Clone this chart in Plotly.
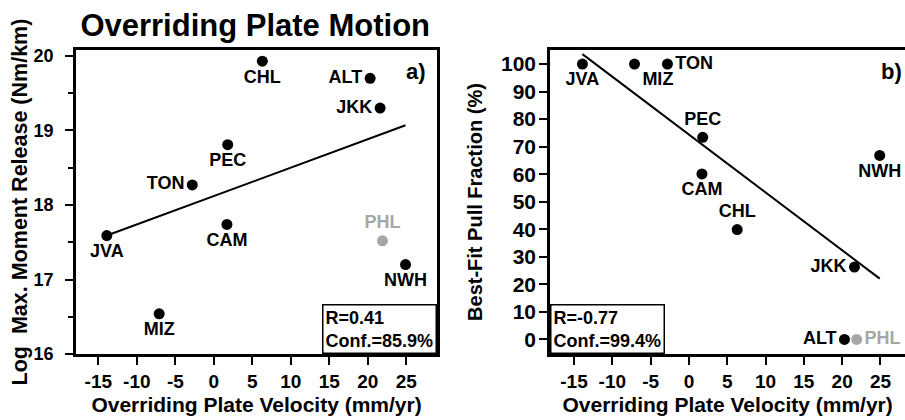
import plotly.graph_objects as go

# ---- data ----
zones = ["JVA", "MIZ", "TON", "PEC", "CAM", "CHL", "ALT", "JKK", "PHL", "NWH"]
velocity = [-13.9, -7.1, -2.8, 1.8, 1.7, 6.3, 20.3, 21.6, 21.9, 24.9]
moment_release = [17.59, 16.54, 18.27, 18.81, 17.74, 19.93, 19.70, 19.30, 17.52, 17.20]
pull_fraction = [100, 100, 100, 73.4, 60.1, 39.9, 0, 26.3, 0, 66.8]
in_fit = [True, True, True, True, True, True, True, True, False, True]

trend_velocity = [-13.9, 24.9]
trend_moment = [17.59, 19.07]
trend_pull = [103.6, 22.1]

x_ticks = [-15, -10, -5, 0, 5, 10, 15, 20, 25]
x_tick_labels = ["-15", "-10", "-5", "0", "5", "10", "15", "20", "25"]
moment_ticks = [16, 17, 18, 19, 20]
pull_ticks = [0, 10, 20, 30, 40, 50, 60, 70, 80, 90, 100]

stats_a = "R=0.41<br>Conf.=85.9%"
stats_b = "R=-0.77<br>Conf.=99.4%"

# ---- styles ----
FONT = "Liberation Sans, Arial, Helvetica, sans-serif"
BLACK = "#000000"
GRAY = "#a6a6a6"
colors = [BLACK if f else GRAY for f in in_fit]

pos_a = ["bottom center", "bottom center", "middle left", "bottom center", "bottom center",
         "bottom center", "middle left", "middle left", "top center", "bottom center"]
pos_b = ["bottom center", "bottom right", "middle right", "top center", "bottom center",
         "top center", "middle left", "middle left", "middle right", "bottom center"]

fig = go.Figure()

fig.add_trace(go.Scatter(x=trend_velocity, y=trend_moment, mode="lines",
                         line=dict(color=BLACK, width=2), xaxis="x", yaxis="y",
                         showlegend=False, hoverinfo="skip"))
fig.add_trace(go.Scatter(x=velocity, y=moment_release, mode="markers+text", text=zones,
                         textposition=pos_a, cliponaxis=False,
                         marker=dict(color=colors, size=11),
                         textfont=dict(family=FONT, size=18, color=colors, weight=700),
                         xaxis="x", yaxis="y", showlegend=False))

fig.add_trace(go.Scatter(x=trend_velocity, y=trend_pull, mode="lines",
                         line=dict(color=BLACK, width=2), xaxis="x2", yaxis="y2",
                         showlegend=False, hoverinfo="skip"))
fig.add_trace(go.Scatter(x=velocity, y=pull_fraction, mode="markers+text", text=zones,
                         textposition=pos_b, cliponaxis=False,
                         marker=dict(color=colors, size=11),
                         textfont=dict(family=FONT, size=18, color=colors, weight=700),
                         xaxis="x2", yaxis="y2", showlegend=False))

def tf(size):
    return dict(family=FONT, size=size, color=BLACK, weight=700)

common_axis = dict(showline=True, linewidth=3, linecolor=BLACK, ticks="outside",
                   ticklen=8, tickwidth=2, tickcolor=BLACK, showgrid=False,
                   zeroline=False, automargin=False)

ydom = [0.157, 0.881]

fig.update_layout(
    width=905, height=420,
    margin=dict(l=0, r=0, t=0, b=0),
    plot_bgcolor="white", paper_bgcolor="white",
    font=dict(family=FONT, color=BLACK),
    title=dict(text="Overriding Plate Motion", x=0.282, xanchor="center",
               y=0.94, yanchor="middle", font=tf(31)),
    xaxis=dict(domain=[0.084, 0.483], range=[-17.9, 29.0], anchor="y",
               tickmode="array", tickvals=x_ticks, ticktext=x_tick_labels, mirror=True,
               ticklabelstandoff=0, tickfont=tf(19),
               title=dict(text="Overriding Plate Velocity (mm/yr)", font=tf(21), standoff=7),
               **common_axis),
    yaxis=dict(domain=ydom, range=[16, 20.08], anchor="x",
               tickmode="array", tickvals=moment_ticks, mirror=True,
               ticklabelstandoff=8, tickfont=tf(18),
               minor=dict(dtick=0.5, ticks="outside", ticklen=5, tickwidth=2, tickcolor=BLACK),
               title=dict(text="Log  Max. Moment Release (Nm/km)", font=tf(21.5), standoff=0),
               **common_axis),
    xaxis2=dict(domain=[0.608, 1.0], range=[-18.1, 28.2], anchor="y2",
                tickmode="array", tickvals=x_ticks, ticktext=x_tick_labels, mirror=True,
                ticklabelstandoff=0, tickfont=tf(19),
                title=dict(text="Overriding Plate Velocity (mm/yr)", font=tf(21), standoff=7),
                **common_axis),
    yaxis2=dict(domain=ydom, range=[-5.3, 105.1], anchor="x2",
                tickmode="array", tickvals=pull_ticks, mirror=False,
                ticklabelstandoff=-1, tickfont=tf(21),
                title=dict(text="Best-Fit Pull Fraction (%)", font=tf(20), standoff=13),
                **common_axis),
)

box_font = tf(18)
fig.add_annotation(text=stats_a, xref="x domain", yref="y domain", x=1, y=0,
                   xanchor="right", yanchor="bottom", align="left", showarrow=False,
                   font=box_font, bordercolor=BLACK, borderwidth=1.5, borderpad=2,
                   bgcolor="white")
fig.add_annotation(text=stats_b, xref="x2 domain", yref="y2 domain", x=0, y=0,
                   xanchor="left", yanchor="bottom", align="left", showarrow=False,
                   font=box_font, bordercolor=BLACK, borderwidth=1.5, borderpad=2,
                   bgcolor="white")

panel_font = tf(22)
fig.add_annotation(text="a)", xref="x domain", yref="y domain", x=1, y=1,
                   xanchor="right", yanchor="top", xshift=-9, yshift=-7,
                   showarrow=False, font=panel_font)
fig.add_annotation(text="b)", xref="x2 domain", yref="y2 domain", x=1, y=1,
                   xanchor="right", yanchor="top", xshift=-1, yshift=-7,
                   showarrow=False, font=panel_font)

fig.write_html("out.html", config={"displayModeBar": False},
               post_script="document.body.style.margin='0';document.body.style.overflow='hidden';")
